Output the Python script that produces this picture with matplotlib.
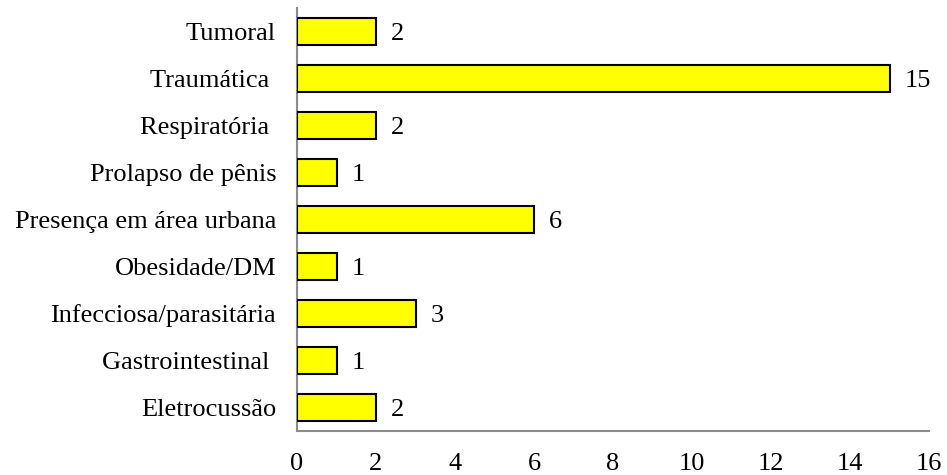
import matplotlib
matplotlib.use("Agg")
import matplotlib.pyplot as plt

categories = ["Eletrocussão", "Gastrointestinal ", "Infecciosa/parasitária", "Obesidade/DM",
              "Presença em área urbana", "Prolapso de pênis", "Respiratória ", "Traumática ", "Tumoral"]
values = [2, 1, 3, 1, 6, 1, 2, 15, 2]
xticks = [0, 2, 4, 6, 8, 10, 12, 14, 16]

plt.rcParams['font.family'] = ['Liberation Serif', 'DejaVu Serif']
fig = plt.figure(figsize=(9.47, 4.75), dpi=100)
ax = fig.add_axes([297/947, 1-431/475, (929-297)/947, (431-8)/475])

y = list(range(len(categories)))
bars = ax.barh(y, values, height=0.58, color='#FFFF00', edgecolor='black', linewidth=1.5, zorder=3)
for yi, v in zip(y, values):
    ax.annotate(str(v), (v, yi), xytext=(15, 0), textcoords='offset pixels',
                ha='left', va='center_baseline', fontsize=19)

ax.set_yticks(y)
ax.set_yticklabels(categories, fontsize=19)
ax.set_xticks(xticks)
ax.set_xticklabels([str(t) for t in xticks], fontsize=19)
ax.set_xlim(0, 16)
ax.set_ylim(-0.5, len(categories) - 0.5)
ax.tick_params(axis='both', length=0)
ax.tick_params(axis='y', pad=15)
ax.tick_params(axis='x', pad=16)
for s in ['top', 'right']:
    ax.spines[s].set_visible(False)
for s in ['left', 'bottom']:
    ax.spines[s].set_color('#8c8c8c')
    ax.spines[s].set_linewidth(1.5)

fig.savefig('out.png', dpi=100)
